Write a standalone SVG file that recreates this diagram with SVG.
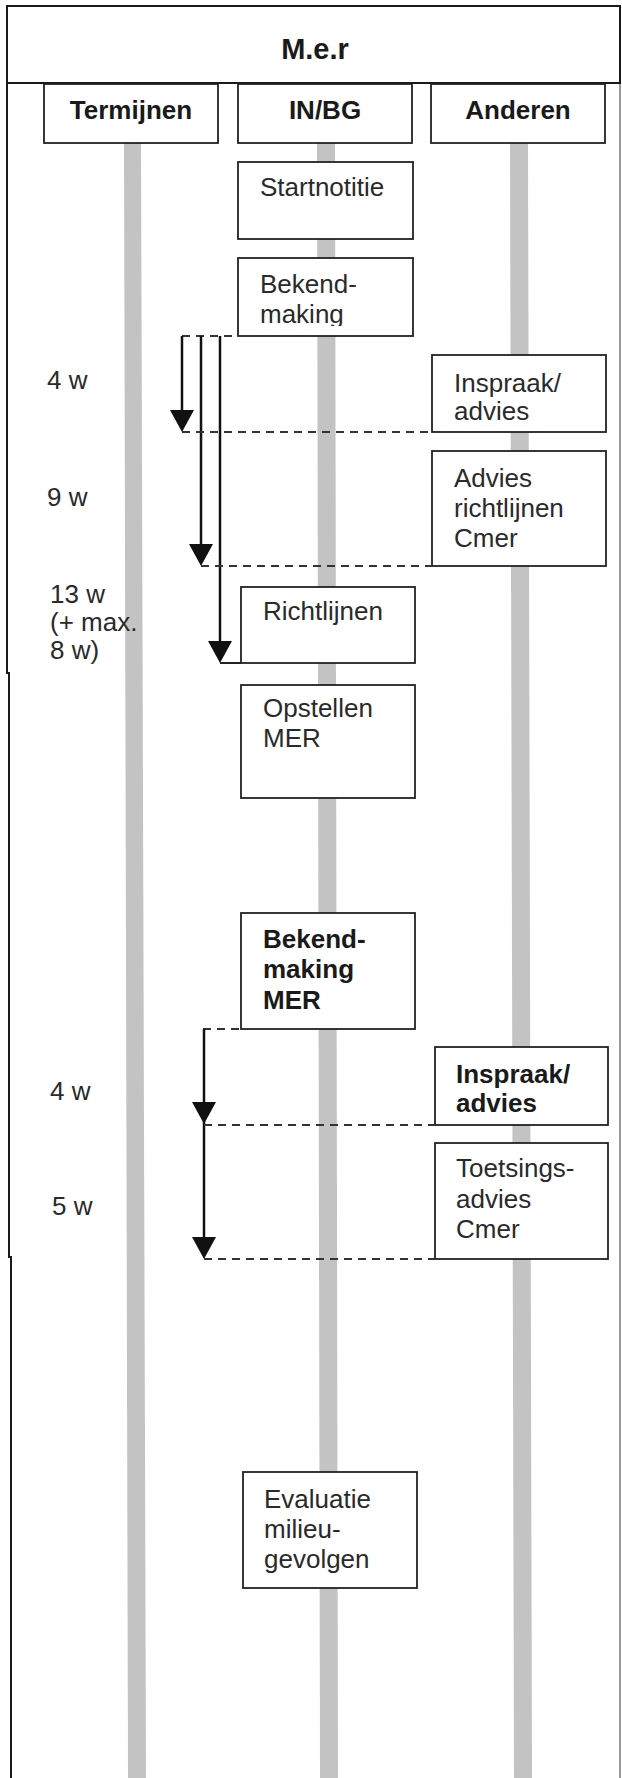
<svg xmlns="http://www.w3.org/2000/svg" width="622" height="1778" viewBox="0 0 622 1778">
<style>
.frame{stroke:#1a1a1a;stroke-width:2;fill:none}
.edge{stroke:#777;stroke-width:1.5;fill:none}
.lane{fill:#c3c3c3}
.box{fill:#fff;stroke:#222;stroke-width:1.8}
.t{font-family:"Liberation Sans",Arial,Helvetica,sans-serif;font-size:26px;fill:#2a2a2a}
.b{font-weight:bold;fill:#1a1a1a}
.c{text-anchor:middle}
.dash{stroke:#333;stroke-width:2;stroke-dasharray:8 6;fill:none}
.solid{stroke:#222;stroke-width:2;fill:none}
.shaft{stroke:#111;stroke-width:2.5;fill:none}
.head{fill:#111}
</style>
<defs>
<path id="head" class="head" d="M-12,-22 L12,-22 L0,0 Z"/>
<clipPath id="clipMaking"><rect x="238" y="258" width="175" height="68"/></clipPath>
</defs>

<g id="frame">
<line class="frame" x1="6" y1="6" x2="621" y2="6"/>
<line class="frame" x1="6" y1="83" x2="621" y2="83"/>
<polyline class="frame" points="7,5 7,673 9,673 9,1257 11,1257 11,1778"/>
<line class="frame" x1="620" y1="5" x2="620" y2="84"/>
<line class="edge" x1="620" y1="84" x2="620" y2="1778"/>
<text class="t b c" x="315" y="59" style="font-size:29px">M.e.r</text>
</g>

<g id="lanes">
<polygon class="lane" points="124,143 141,143 146,1778 128,1778"/>
<polygon class="lane" points="317,143 335,143 338,1778 320,1778"/>
<polygon class="lane" points="510,143 528,143 532,1778 514,1778"/>
</g>

<g id="hdr-termijnen">
<rect class="box" x="44" y="84" width="174" height="59"/>
<text class="t b c" x="131" y="119">Termijnen</text>
</g>
<g id="hdr-inbg">
<rect class="box" x="238" y="84" width="174" height="59"/>
<text class="t b c" x="325" y="119">IN/BG</text>
</g>
<g id="hdr-anderen">
<rect class="box" x="431" y="84" width="174" height="59"/>
<text class="t b c" x="518" y="119">Anderen</text>
</g>

<g id="termijnen-labels">
<text class="t" x="47" y="389">4 w</text>
<text class="t" x="47" y="506">9 w</text>
<text class="t" x="50" y="603">13 w</text>
<text class="t" x="50" y="631">(+ max.</text>
<text class="t" x="50" y="659">8 w)</text>
<text class="t" x="50" y="1100">4 w</text>
<text class="t" x="52" y="1215">5 w</text>
</g>

<g id="startnotitie">
<rect class="box" x="238" y="162" width="175" height="77"/>
<text class="t" x="260" y="196">Startnotitie</text>
</g>
<g id="bekendmaking">
<rect class="box" x="238" y="258" width="175" height="78"/>
<text class="t" x="260" y="293">Bekend-</text>
<text class="t" x="260" y="323" clip-path="url(#clipMaking)">making</text>
</g>
<g id="richtlijnen">
<rect class="box" x="241" y="587" width="174" height="76"/>
<text class="t" x="263" y="620">Richtlijnen</text>
</g>
<g id="opstellen-mer">
<rect class="box" x="241" y="685" width="174" height="113"/>
<text class="t" x="263" y="717">Opstellen</text>
<text class="t" x="263" y="747">MER</text>
</g>
<g id="bekendmaking-mer">
<rect class="box" x="241" y="913" width="174" height="116"/>
<text class="t b" x="263" y="948">Bekend-</text>
<text class="t b" x="263" y="978">making</text>
<text class="t b" x="263" y="1009">MER</text>
</g>
<g id="evaluatie">
<rect class="box" x="243" y="1472" width="174" height="116"/>
<text class="t" x="264" y="1508">Evaluatie</text>
<text class="t" x="264" y="1538">milieu-</text>
<text class="t" x="264" y="1568">gevolgen</text>
</g>

<g id="inspraak-1">
<rect class="box" x="432" y="355" width="174" height="77"/>
<text class="t" x="454" y="392">Inspraak/</text>
<text class="t" x="454" y="420">advies</text>
</g>
<g id="advies-cmer">
<rect class="box" x="432" y="451" width="174" height="115"/>
<text class="t" x="454" y="487">Advies</text>
<text class="t" x="454" y="517">richtlijnen</text>
<text class="t" x="454" y="547">Cmer</text>
</g>
<g id="inspraak-2">
<rect class="box" x="435" y="1047" width="173" height="78"/>
<text class="t b" x="456" y="1083">Inspraak/</text>
<text class="t b" x="456" y="1112">advies</text>
</g>
<g id="toetsing">
<rect class="box" x="435" y="1143" width="173" height="116"/>
<text class="t" x="456" y="1177">Toetsings-</text>
<text class="t" x="456" y="1208">advies</text>
<text class="t" x="456" y="1238">Cmer</text>
</g>

<g id="connectors">
<line class="dash" x1="182" y1="336" x2="238" y2="336"/>
<line class="shaft" x1="182" y1="336" x2="182" y2="420"/>
<line class="shaft" x1="201" y1="336" x2="201" y2="554"/>
<line class="shaft" x1="220" y1="336" x2="220" y2="651"/>
<use href="#head" x="182" y="432"/>
<use href="#head" x="201" y="566"/>
<use href="#head" x="220" y="663"/>
<line class="dash" x1="182" y1="432" x2="432" y2="432"/>
<line class="dash" x1="201" y1="566" x2="432" y2="566"/>
<line class="solid" x1="220" y1="663" x2="241" y2="663"/>

<line class="dash" x1="203" y1="1029" x2="241" y2="1029"/>
<line class="shaft" x1="204" y1="1029" x2="204" y2="1250"/>
<use href="#head" x="204" y="1124"/>
<use href="#head" x="204" y="1259"/>
<line class="dash" x1="204" y1="1125" x2="435" y2="1125"/>
<line class="dash" x1="204" y1="1259" x2="435" y2="1259"/>
</g>
</svg>
